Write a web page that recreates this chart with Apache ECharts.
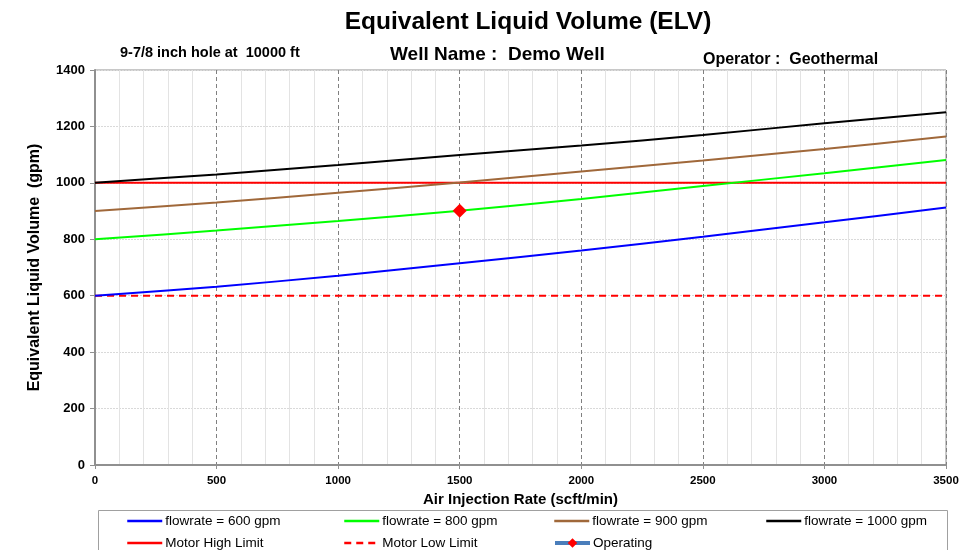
<!DOCTYPE html>
<html>
<head>
<meta charset="utf-8">
<script src="https://cdn.jsdelivr.net/npm/echarts@6/dist/echarts.min.js"></script>
<style>
html,body{margin:0;padding:0;background:#fff;}
#chart{width:977px;height:550px;}
</style>
</head>
<body>
<div id="chart"></div>
<script>
// Air injection rate (scft/min)
const airRate = [0, 500, 1000, 1500, 2000, 2500, 3000, 3500];
// Equivalent liquid volume (gpm) for each pump flowrate
const elv600 = [600, 632, 671, 715, 760, 809, 860, 913];
const elv800 = [800, 831, 865, 901, 943, 989, 1034, 1081];
const elv900 = [900, 930, 965, 1001, 1040, 1079, 1120, 1164];
const elv1000 = [1000, 1030, 1063, 1099, 1132, 1170, 1211, 1250];
// Motor limits (gpm)
const motorHigh = 1000;
const motorLow = 600;
// Operating point [air rate, ELV]
const operating = [1500, 901];
const yTicks = [0, 200, 400, 600, 800, 1000, 1200, 1400];

const FONT = '"Liberation Sans", Arial, sans-serif';

function pairs(vals) { return airRate.map((x, i) => [x, vals[i]]); }

const chart = echarts.init(document.getElementById('chart'));

const seriesDefs = [
  { name: 'flowrate = 600 gpm', data: pairs(elv600), color: '#0000ff' },
  { name: 'flowrate = 800 gpm', data: pairs(elv800), color: '#00ff00' },
  { name: 'flowrate = 900 gpm', data: pairs(elv900), color: '#a0683a' },
  { name: 'flowrate = 1000 gpm', data: pairs(elv1000), color: '#000000' }
];

const series = seriesDefs.map(s => ({
  name: s.name, type: 'line', data: s.data, smooth: 0.3, showSymbol: false, symbol: 'none',
  lineStyle: { color: s.color, width: 2 }, itemStyle: { color: s.color }, z: 3
}));
series.push({
  name: 'Motor High Limit', type: 'line',
  data: [[airRate[0], motorHigh], [airRate[airRate.length - 1], motorHigh]],
  symbol: 'none', lineStyle: { color: '#ff0000', width: 2 }, itemStyle: { color: '#ff0000' }, z: 2
});
series.push({
  name: 'Motor Low Limit', type: 'line',
  data: [[airRate[0], motorLow], [airRate[airRate.length - 1], motorLow]],
  symbol: 'none', lineStyle: { color: '#ff0000', width: 2, type: [7, 5] }, itemStyle: { color: '#ff0000' }, z: 2
});
series.push({
  name: 'Operating', type: 'line', data: [operating],
  symbol: 'diamond', symbolSize: 14, showSymbol: true,
  lineStyle: { color: '#4a7ebb', width: 4 }, itemStyle: { color: '#ff0000' }, z: 5
});

const legendPos = [
  ['flowrate = 600 gpm', 126, 514], ['flowrate = 800 gpm', 343, 514],
  ['flowrate = 900 gpm', 553, 514], ['flowrate = 1000 gpm', 765, 514],
  ['Motor High Limit', 126, 536], ['Motor Low Limit', 343, 536], ['Operating', 553, 536]
];
const legends = legendPos.map(([n, x, y]) => ({
  data: [n], left: x, top: y, itemWidth: 35, itemHeight: 12, itemGap: 0, padding: 0,
  selectedMode: false,
  itemStyle: n === 'Operating' ? {} : { opacity: 0 },
  lineStyle: { width: n === 'Operating' ? 4 : 2.5 },
  textStyle: { fontFamily: FONT, fontSize: 13.5, color: '#000', padding: [0, 0, 0, -2] }
}));

const plainNum = v => String(v);

chart.setOption({
  animation: false,
  backgroundColor: '#fff',
  title: [
    { text: 'Equivalent Liquid Volume (ELV)', left: 523, top: 5, textAlign: 'center',
      textStyle: { fontFamily: FONT, fontSize: 24.5, fontWeight: 'bold', color: '#000' } },
    { text: '9-7/8 inch hole at  10000 ft', left: 115, top: 40,
      textStyle: { fontFamily: FONT, fontSize: 14.5, fontWeight: 'bold', color: '#000' } },
    { text: 'Well Name :  Demo Well', left: 385, top: 40,
      textStyle: { fontFamily: FONT, fontSize: 19, fontWeight: 'bold', color: '#000' } },
    { text: 'Operator :  Geothermal', left: 698, top: 47,
      textStyle: { fontFamily: FONT, fontSize: 16, fontWeight: 'bold', color: '#000' } }
  ],
  legend: legends,
  grid: { left: 95, right: 31, top: 70, bottom: 85, show: true, borderColor: '#909090', borderWidth: 1 },
  xAxis: {
    type: 'value', min: 0, max: 3500, interval: 500,
    name: 'Air Injection Rate (scft/min)', nameLocation: 'middle', nameGap: 27,
    nameTextStyle: { fontFamily: FONT, fontSize: 15, fontWeight: 'bold', color: '#000' },
    axisLine: { show: true, lineStyle: { color: '#909090', width: 2 } },
    axisTick: { show: true, length: 4, lineStyle: { color: '#909090' } },
    axisLabel: { fontFamily: FONT, fontSize: 11.5, fontWeight: 'bold', color: '#000', margin: 10, formatter: plainNum },
    splitLine: { show: true, lineStyle: { color: '#808080', type: [4, 3], width: 1 } },
    minorTick: { show: false, splitNumber: 5 },
    minorSplitLine: { show: true, lineStyle: { color: '#e3e3e3', width: 1 } }
  },
  yAxis: {
    type: 'value', min: yTicks[0], max: yTicks[yTicks.length - 1], interval: 200,
    name: 'Equivalent Liquid Volume  (gpm)', nameLocation: 'middle', nameGap: 52,
    nameTextStyle: { fontFamily: FONT, fontSize: 16, fontWeight: 'bold', color: '#000' },
    axisLine: { show: true, lineStyle: { color: '#909090', width: 2 } },
    axisTick: { show: true, length: 5, lineStyle: { color: '#909090' } },
    axisLabel: { fontFamily: FONT, fontSize: 13, fontWeight: 'bold', color: '#000', margin: 10, formatter: plainNum },
    splitLine: { show: true, lineStyle: { color: '#d9d9d9', type: [2, 1], width: 1 } }
  },
  graphic: [
    { type: 'rect', shape: { x: 98.5, y: 510.5, width: 849, height: 60 },
      style: { fill: 'none', stroke: '#a0a0a0', lineWidth: 1 }, silent: true, z: -1 }
  ],
  series: series
});
</script>
</body>
</html>
